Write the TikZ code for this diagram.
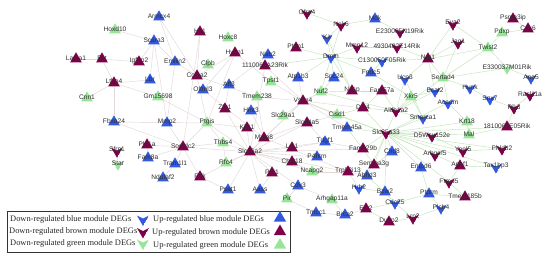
\documentclass[tikz,border=0pt]{standalone}
\usepackage{fontspec}
\setmainfont{Liberation Serif}
\setsansfont{Liberation Sans}
\usepackage{tikz}
\usetikzlibrary{shapes.geometric,backgrounds}
\definecolor{modblue}{HTML}{3259E0}
\definecolor{modbrown}{HTML}{7D0049}
\definecolor{modgreen}{HTML}{97E697}
\definecolor{edgegray}{HTML}{E3D7D7}
\definecolor{edgegreen}{HTML}{C2E5BA}
\definecolor{labelgray}{HTML}{2E2E2E}

\begin{document}
\begin{tikzpicture}[
  x=1pt,y=-1pt,
  gene/.style={regular polygon,regular polygon sides=3,minimum size=13.5pt,inner sep=0pt,draw=none},
  chev/.style={gene,shape border rotate=180,path picture={\fill[#1] (path picture bounding box.north west) -- ([yshift=-3pt]path picture bounding box.north) -- (path picture bounding box.north east) -- (path picture bounding box.south) -- cycle;}},
  upb/.style={gene,fill=modblue},
  upr/.style={gene,fill=modbrown},
  upg/.style={gene,fill=modgreen},
  dnb/.style={chev=modblue},
  dnr/.style={chev=modbrown},
  dng/.style={chev=modgreen},
  gl/.style={font=\sffamily\fontsize{6.6}{7}\selectfont,text=labelgray,inner sep=0pt,yshift=1pt},
  ep/.style={draw=edgegray,line width=0.45pt},
  eg/.style={draw=edgegreen,line width=0.45pt},
  legtext/.style={font=\fontsize{8.4}{9}\selectfont,text=black!85,inner sep=0pt,anchor=west},
]
\useasboundingbox (0,0) rectangle (550,260);
% blue module, up
\node[upb,label={[gl]center:Armcx4}] (armcx4) at (159,17) {};
\node[upb,label={[gl]center:Scara3}] (scara3) at (154,41) {};
\node[upb,label={[gl]center:Emilin2}] (emilin2) at (175,62) {};
\node[upb,label={[gl]center:Nab2}] (nab2) at (268,55) {};
\node[upb,label={[gl]center:Lbr}] (lbr) at (150,80) {};
\node[upb,label={[gl]center:Atf3}] (atf3) at (229,85) {};
\node[upb,label={[gl]center:Olfml3}] (olfml3) at (203,90) {};
\node[upb,label={[gl]center:Fbxo24}] (fbxo24) at (114,122) {};
\node[upb,label={[gl]center:Mmp2}] (mmp2) at (167,123) {};
\node[upb,label={[gl]center:Hint3}] (hint3) at (251,111) {};
\node[upb,label={[gl]center:Fam8a}] (fam8a) at (148,158) {};
\node[upb,label={[gl]center:Tram1l1}] (tram) at (175,164) {};
\node[upb,label={[gl]center:Ndufaf2}] (ndufaf2) at (163,178) {};
\node[upb,label={[gl]center:Psat1}] (psat1) at (228,190) {};
\node[upb,label={[gl]center:Aass}] (aass) at (260,190) {};
\node[upb,label={[gl]center:Atp1b3}] (atp1b3) at (298,78) {};
\node[upb,label={[gl]center:Spc24}] (spc24) at (334,78) {};
\node[upb,label={[gl]center:Fndc5}] (fndc5) at (371,73) {};
\node[upb,label={[gl]center:Mdk}] (mdk) at (375,19) {};
\node[upb,label={[gl]center:Tmem45a}] (tmem45a) at (347,128) {};
\node[upb,label={[gl]center:Tdgf1}] (tdgf1) at (325,142) {};
\node[upb,label={[gl]center:P4htm}] (p4htm) at (317,157) {};
\node[upb,label={[gl]center:Chd8}] (chd8) at (392,152) {};
\node[upb,label={[gl]center:Abhd3}] (abhd3) at (367,176) {};
\node[upb,label={[gl]center:Cdv3}] (cdv3) at (298,186) {};
\node[upb,label={[gl]center:Tmcc1}] (tmcc1) at (316,213) {};
\node[upb,label={[gl]center:Brca2}] (brca2) at (345,215) {};
\node[upb,label={[gl]center:Bzw2}] (bzw2) at (385,192) {};
\node[upb,label={[gl]center:Entpd6}] (entpd6) at (421,168) {};
\node[upb,label={[gl]center:Ptprm}] (ptprm) at (429,194) {};
% blue module, down
\node[dnb,label={[gl]center:Kit}] (kit) at (327,38) {};
\node[dnb,label={[gl]center:Dmtn}] (dmtn) at (331,57) {};
\node[dnb,label={[gl]center:C130050F05Rik}] (rik1300) at (382,61) {};
\node[dnb,label={[gl]center:Ucp3}] (ucp3) at (405,79) {};
\node[dnb,label={[gl]center:Bcat2}] (bcat2) at (435,91) {};
\node[dnb,label={[gl]center:Hunk}] (hunk) at (470,88) {};
\node[dnb,label={[gl]center:Acadm}] (acadm) at (448,103) {};
\node[dnb,label={[gl]center:Snx7}] (snx7) at (490,99) {};
\node[dnb,label={[gl]center:Ano5}] (ano5) at (531,78) {};
\node[dnb,label={[gl]center:Smarca1}] (smarca1) at (423,118) {};
\node[dnb,label={[gl]center:Tax1bp3}] (tax1bp3) at (496,167) {};
\node[dnb,label={[gl]center:Hrh2}] (hrh2) at (359,188) {};
\node[dnb,label={[gl]center:Cdc25}] (cdc25) at (395,203) {};
\node[dnb,label={[gl]center:Plcb4}] (plcb4) at (441,208) {};
% brown module, up
\node[upr,label={[gl]center:Lama1}] (lama1) at (76,59) {};
\node[upr,label={[gl]center:Fst}] (fst) at (102,59) {};
\node[upr,label={[gl]center:Igfbp2}] (igfbp2) at (139,62) {};
\node[upr,label={[gl]center:Ltbp4}] (ltbp4) at (114,83) {};
\node[upr,label={[gl]center:Hk1}] (hk1) at (200,32) {};
\node[upr,label={[gl]center:Hvcn1}] (hvcn1) at (235,53) {};
\node[upr,label={[gl]center:1110069A23Rik}] (rik1110) at (265,66) {};
\node[upr,label={[gl]center:Col4a2}] (col4a2) at (197,76) {};
\node[upr,label={[gl]center:Zfp1}] (zfp1) at (225,109) {};
\node[upr,label={[gl]center:Kif11}] (kif11) at (247,128) {};
\node[upr,label={[gl]center:Mxra8}] (mxra8) at (264,138) {};
\node[upr,label={[gl]center:Pla1a}] (pla1a) at (147,145) {};
\node[upr,label={[gl]center:Sostdc2}] (sostdc2) at (183,147) {};
\node[upr,label={[gl]center:Slc16a2}] (slc16a2) at (250,152) {};
\node[upr,label={[gl]center:Pbk}] (pbk) at (200,177) {};
\node[upr,label={[gl]center:Prc1}] (prc1) at (272,173) {};
\node[upr,label={[gl]center:Lgi1}] (lgi1) at (292,148) {};
\node[upr,label={[gl]center:Chst18}] (chst18) at (292,162) {};
\node[upr,label={[gl]center:Vstm4}] (vstm4) at (303,101) {};
\node[upr,label={[gl]center:Slc44a5}] (slc44a5) at (307,123) {};
\node[upr,label={[gl]center:Ptpn1}] (ptpn1) at (296,48) {};
\node[upr,label={[gl]center:Nasp}] (nasp) at (352,91) {};
\node[upr,label={[gl]center:Fam57a}] (fam57a) at (382,91) {};
\node[upr,label={[gl]center:Dtx4}] (dtx4) at (363,108) {};
\node[upr,label={[gl]center:Fam129b}] (fam129b) at (363,149) {};
\node[upr,label={[gl]center:Serpina3g}] (serpina3g) at (374,165) {};
\node[upr,label={[gl]center:Trp53i13}] (trp53i13) at (348,172) {};
\node[upr,label={[gl]center:Ect2}] (ect2) at (366,209) {};
\node[upr,label={[gl]center:Dusp2}] (dusp2) at (389,222) {};
\node[upr,label={[gl]center:Tmem185b}] (tmem185b) at (465,197) {};
\node[upr,label={[gl]center:Apaf1}] (apaf1) at (460,166) {};
\node[upr,label={[gl]center:1810065E05Rik}] (rik1810) at (507,127) {};
\node[upr,label={[gl]center:Nrp1}] (nrp1) at (428,59) {};
\node[upr,label={[gl]center:Psme3ip}] (psme3ip) at (513,19) {};
\node[upr,label={[gl]center:Cdk6}] (cdk6) at (528,29) {};
% brown module, down
\node[dnr,label={[gl]center:Sfrp1}] (sfrp1) at (117,151) {};
\node[dnr,label={[gl]center:Gfra4}] (gfra4) at (307,13) {};
\node[dnr,label={[gl]center:Nek6}] (nek6) at (341,25) {};
\node[dnr,label={[gl]center:Mmp12}] (mmp12) at (357,47) {};
\node[dnr,label={[gl]center:E230005N19Rik}] (rik2300) at (400,32) {};
\node[dnr,label={[gl]center:4930402E14Rik}] (rik4930) at (397,47) {};
\node[dnr,label={[gl]center:Aldh1a2}] (aldh1a2) at (396,111) {};
\node[dnr,label={[gl]center:Slc25a33}] (slc25a33) at (386,133) {};
\node[dnr,label={[gl]center:Eya2}] (eya2) at (453,24) {};
\node[dnr,label={[gl]center:Jag1}] (jag1) at (458,43) {};
\node[dnr,label={[gl]center:Rasl11a}] (rasl11a) at (530,95) {};
\node[dnr,label={[gl]center:Pik3}] (pik3) at (514,108) {};
\node[dnr,label={[gl]center:D5Wsu152e}] (d5wsu) at (432,136) {};
\node[dnr,label={[gl]center:Arhgef5}] (arhgef5) at (435,155) {};
\node[dnr,label={[gl]center:Ypel5}] (ypel5) at (463,151) {};
\node[dnr,label={[gl]center:Phldb2}] (phldb2) at (502,149) {};
\node[dnr,label={[gl]center:Frmd5}] (frmd5) at (449,182) {};
\node[dnr,label={[gl]center:Lrp2}] (lrp2) at (413,218) {};
% green module, up
\node[upg,label={[gl]center:Hoxd10}] (hoxd10) at (115,30) {};
\node[upg,label={[gl]center:Hoxc8}] (hoxc8) at (228,38) {};
\node[upg,label={[gl]center:Clpb}] (clpb) at (208,65) {};
\node[upg,label={[gl]center:Gm15698}] (gm15698) at (158,97) {};
\node[upg,label={[gl]center:Tpst1}] (tpst1) at (271,82) {};
\node[upg,label={[gl]center:Tmem238}] (tmem238) at (257,97) {};
\node[upg,label={[gl]center:Cnn1}] (cnn1) at (87,98) {};
\node[upg,label={[gl]center:Ptgis}] (ptgis) at (207,123) {};
\node[upg,label={[gl]center:Slc29a1}] (slc29a1) at (283,116) {};
\node[upg,label={[gl]center:Thbs4}] (thbs4) at (223,143) {};
\node[upg,label={[gl]center:Rfc4}] (rfc4) at (226,163) {};
\node[upg,label={[gl]center:Nuf2}] (nuf2) at (321,92) {};
\node[upg,label={[gl]center:Cisd1}] (cisd1) at (337,115) {};
\node[upg,label={[gl]center:Xkr5}] (xkr5) at (411,97) {};
\node[upg,label={[gl]center:Krt18}] (krt18) at (467,122) {};
\node[upg,label={[gl]center:Mal}] (mal) at (469,135) {};
\node[upg,label={[gl]center:Ncapg2}] (ncapg2) at (312,172) {};
\node[upg,label={[gl]center:Pir}] (pir) at (287,199) {};
\node[upg,label={[gl]center:Arhgap11a}] (arhgap11a) at (332,200) {};
\node[upg,label={[gl]center:Twist2}] (twist2) at (488,48) {};
\node[upg,label={[gl]center:Pdxp}] (pdxp) at (502,33) {};
\node[upg,label={[gl]center:Sertad4}] (sertad4) at (443,78) {};
% green module, down
\node[dng,label={[gl]center:Star}] (star) at (118,164) {};
\node[dng,label={[gl]center:E330037M01Rik}] (rik3300) at (507,68) {};
\begin{scope}[on background layer]
% brown module links
\draw[ep] (hoxd10) -- (scara3);
\draw[ep] (lama1) -- (fst);
\draw[ep] (fst) -- (igfbp2);
\draw[ep] (fst) -- (ltbp4);
\draw[ep] (ltbp4) -- (cnn1);
\draw[ep] (ltbp4) -- (lbr);
\draw[ep] (ltbp4) -- (gm15698);
\draw[ep] (ltbp4) -- (fbxo24);
\draw[ep] (scara3) -- (igfbp2);
\draw[ep] (scara3) -- (emilin2);
\draw[ep] (scara3) -- (lbr);
\draw[ep] (scara3) -- (mmp2);
\draw[ep] (armcx4) -- (emilin2);
\draw[ep] (armcx4) -- (col4a2);
\draw[ep] (hk1) -- (col4a2);
\draw[ep] (hk1) -- (sostdc2);
\draw[ep] (emilin2) -- (mmp2);
\draw[ep] (emilin2) -- (col4a2);
\draw[ep] (hvcn1) -- (col4a2);
\draw[ep] (hvcn1) -- (olfml3);
\draw[ep] (hvcn1) -- (tpst1);
\draw[ep] (hvcn1) -- (ptgis);
\draw[ep] (rik1110) -- (slc16a2);
\draw[ep] (rik1110) -- (vstm4);
\draw[ep] (nab2) -- (atf3);
\draw[ep] (col4a2) -- (ptgis);
\draw[ep] (col4a2) -- (tmem238);
\draw[ep] (atf3) -- (zfp1);
\draw[ep] (olfml3) -- (mxra8);
\draw[ep] (gm15698) -- (ptgis);
\draw[ep] (fbxo24) -- (ptgis);
\draw[ep] (fbxo24) -- (sostdc2);
\draw[ep] (mmp2) -- (sostdc2);
\draw[ep] (ptgis) -- (slc16a2);
\draw[ep] (ptgis) -- (thbs4);
\draw[ep] (ptgis) -- (sostdc2);
\draw[ep] (ptgis) -- (kif11);
\draw[ep] (zfp1) -- (slc16a2);
\draw[ep] (hint3) -- (mxra8);
\draw[ep] (kif11) -- (slc16a2);
\draw[ep] (mxra8) -- (slc16a2);
\draw[ep] (sostdc2) -- (slc16a2);
\draw[ep] (sostdc2) -- (pla1a);
\draw[ep] (sostdc2) -- (fam8a);
\draw[ep] (sostdc2) -- (tram);
\draw[ep] (sostdc2) -- (thbs4);
\draw[ep] (sostdc2) -- (pbk);
\draw[ep] (thbs4) -- (slc16a2);
\draw[ep] (rfc4) -- (slc16a2);
\draw[ep] (pbk) -- (slc16a2);
\draw[ep] (psat1) -- (slc16a2);
\draw[ep] (aass) -- (slc16a2);
\draw[ep] (prc1) -- (slc16a2);
\draw[ep] (slc16a2) -- (lgi1);
\draw[ep] (slc16a2) -- (chst18);
\draw[ep] (slc16a2) -- (vstm4);
\draw[ep] (slc16a2) -- (slc44a5);
\draw[ep] (slc16a2) -- (tdgf1);
\draw[ep] (slc16a2) -- (p4htm);
\draw[ep] (slc16a2) -- (ncapg2);
\draw[ep] (slc16a2) -- (cdv3);
\draw[ep] (slc16a2) -- (trp53i13);
\draw[ep] (slc16a2) -- (fam129b);
\draw[ep] (mxra8) -- (vstm4);
\draw[ep] (mxra8) -- (slc44a5);
\draw[ep] (mxra8) -- (tmem238);
\draw[ep] (mxra8) -- (trp53i13);
\draw[ep] (tpst1) -- (vstm4);
\draw[ep] (tmem238) -- (vstm4);
\draw[ep] (atp1b3) -- (vstm4);
\draw[ep] (vstm4) -- (slc29a1);
\draw[ep] (vstm4) -- (nuf2);
\draw[ep] (vstm4) -- (cisd1);
\draw[ep] (vstm4) -- (dtx4);
\draw[ep] (vstm4) -- (tmem45a);
\draw[ep] (slc44a5) -- (cisd1);
\draw[ep] (slc44a5) -- (tdgf1);
\draw[ep] (tdgf1) -- (fam129b);
\draw[ep] (lgi1) -- (tdgf1);
\draw[ep] (chst18) -- (ncapg2);
\draw[ep] (ncapg2) -- (trp53i13);
\draw[ep] (cdv3) -- (pir);
\draw[ep] (cdv3) -- (arhgap11a);
\draw[ep] (pir) -- (tmcc1);
\draw[ep] (arhgap11a) -- (brca2);
\draw[ep] (trp53i13) -- (abhd3);
\draw[ep] (trp53i13) -- (hrh2);
\draw[ep] (tmcc1) -- (brca2);
\draw[ep] (brca2) -- (ect2);
\draw[ep] (prc1) -- (aass);
\draw[ep] (psat1) -- (pbk);
\draw[ep] (rfc4) -- (thbs4);
\draw[ep] (sfrp1) -- (star);
\draw[ep] (pla1a) -- (fam8a);
\draw[ep] (ndufaf2) -- (tram);
\draw[ep] (psme3ip) -- (cdk6);
% green module links
\draw[eg] (ect2) -- (cdc25);
\draw[eg] (ect2) -- (dusp2);
\draw[eg] (hrh2) -- (bzw2);
\draw[eg] (cdc25) -- (lrp2);
\draw[eg] (dusp2) -- (lrp2);
\draw[eg] (lrp2) -- (plcb4);
\draw[eg] (plcb4) -- (ptprm);
\draw[eg] (ptprm) -- (tmem185b);
\draw[eg] (slc25a33) -- (smarca1);
\draw[eg] (slc25a33) -- (acadm);
\draw[eg] (slc25a33) -- (aldh1a2);
\draw[eg] (slc25a33) -- (dtx4);
\draw[eg] (slc25a33) -- (d5wsu);
\draw[eg] (slc25a33) -- (krt18);
\draw[eg] (slc25a33) -- (arhgef5);
\draw[eg] (slc25a33) -- (ypel5);
\draw[eg] (slc25a33) -- (entpd6);
\draw[eg] (slc25a33) -- (apaf1);
\draw[eg] (slc25a33) -- (frmd5);
\draw[eg] (slc25a33) -- (chd8);
\draw[eg] (slc25a33) -- (fam129b);
\draw[eg] (slc25a33) -- (serpina3g);
\draw[eg] (slc25a33) -- (abhd3);
\draw[eg] (slc25a33) -- (tmem45a);
\draw[eg] (slc25a33) -- (cisd1);
\draw[eg] (slc25a33) -- (phldb2);
\draw[eg] (slc25a33) -- (tax1bp3);
\draw[eg] (slc25a33) -- (rik1810);
\draw[eg] (slc25a33) -- (mal);
\draw[eg] (slc25a33) -- (bzw2);
\draw[eg] (slc25a33) -- (vstm4);
\draw[eg] (aldh1a2) -- (xkr5);
\draw[eg] (aldh1a2) -- (smarca1);
\draw[eg] (aldh1a2) -- (dtx4);
\draw[eg] (aldh1a2) -- (fam57a);
\draw[eg] (aldh1a2) -- (ucp3);
\draw[eg] (aldh1a2) -- (sertad4);
\draw[eg] (aldh1a2) -- (bcat2);
\draw[eg] (aldh1a2) -- (nuf2);
\draw[eg] (dmtn) -- (nek6);
\draw[eg] (dmtn) -- (kit);
\draw[eg] (dmtn) -- (ptpn1);
\draw[eg] (dmtn) -- (mmp12);
\draw[eg] (dmtn) -- (fndc5);
\draw[eg] (dmtn) -- (spc24);
\draw[eg] (dmtn) -- (atp1b3);
\draw[eg] (dmtn) -- (nuf2);
\draw[eg] (dmtn) -- (nasp);
\draw[eg] (dmtn) -- (rik1300);
\draw[eg] (dmtn) -- (rik1110);
\draw[eg] (gfra4) -- (nek6);
\draw[eg] (nek6) -- (mdk);
\draw[eg] (nek6) -- (kit);
\draw[eg] (kit) -- (nasp);
\draw[eg] (mdk) -- (rik2300);
\draw[eg] (mmp12) -- (rik4930);
\draw[eg] (rik4930) -- (nrp1);
\draw[eg] (rik1300) -- (nrp1);
\draw[eg] (rik1300) -- (fndc5);
\draw[eg] (nrp1) -- (eya2);
\draw[eg] (nrp1) -- (jag1);
\draw[eg] (nrp1) -- (twist2);
\draw[eg] (nrp1) -- (sertad4);
\draw[eg] (nrp1) -- (bcat2);
\draw[eg] (nrp1) -- (ucp3);
\draw[eg] (eya2) -- (twist2);
\draw[eg] (jag1) -- (sertad4);
\draw[eg] (twist2) -- (pdxp);
\draw[eg] (twist2) -- (rik3300);
\draw[eg] (twist2) -- (sertad4);
\draw[eg] (pdxp) -- (cdk6);
\draw[eg] (rik3300) -- (sertad4);
\draw[eg] (rik3300) -- (ano5);
\draw[eg] (sertad4) -- (hunk);
\draw[eg] (sertad4) -- (acadm);
\draw[eg] (hunk) -- (snx7);
\draw[eg] (acadm) -- (krt18);
\draw[eg] (snx7) -- (pik3);
\draw[eg] (rasl11a) -- (pik3);
\draw[eg] (krt18) -- (mal);
\draw[eg] (mal) -- (rik1810);
\draw[eg] (rik1810) -- (pik3);
\draw[eg] (d5wsu) -- (ypel5);
\draw[eg] (ypel5) -- (phldb2);
\draw[eg] (apaf1) -- (tax1bp3);
\draw[eg] (apaf1) -- (frmd5);
\draw[eg] (entpd6) -- (ptprm);
\draw[eg] (frmd5) -- (tmem185b);
\draw[eg] (bzw2) -- (cdc25);
\draw[eg] (cdc25) -- (ptprm);
\draw[eg] (abhd3) -- (bzw2);
\draw[eg] (serpina3g) -- (chd8);
\draw[eg] (fam129b) -- (serpina3g);
\draw[eg] (tmem45a) -- (fam129b);
\draw[eg] (cisd1) -- (dtx4);
\draw[eg] (dtx4) -- (fam57a);
\draw[eg] (nasp) -- (fam57a);
\draw[eg] (spc24) -- (nuf2);
\draw[eg] (nuf2) -- (nasp);
\draw[eg] (fndc5) -- (xkr5);
\draw[eg] (ucp3) -- (smarca1);
\draw[eg] (xkr5) -- (bcat2);
\draw[eg] (xkr5) -- (smarca1);
\end{scope}
% legend
\node[draw=black!80,line width=1.2pt,fill=white,minimum width=283pt,minimum height=41pt,anchor=north west,inner sep=0pt] (legend) at (7,211) {};
\node[legtext] (ldb) at (10,219) {Down-regulated blue module DEGs};
\node[legtext] (ldr) at (9,231.5) {Down-regulated brown module DEGs};
\node[legtext] (ldg) at (10,243.5) {Down-regulated green module DEGs};
\node[legtext] (lub) at (153,219) {Up-regulated blue module DEGs};
\node[legtext] (lur) at (152,232) {Up-regulated brown module DEGs};
\node[legtext] (lug) at (153,245) {Up-regulated green module DEGs};
\node[dnb,minimum size=14pt] (kdb) at (143,219) {};
\node[dnr,minimum size=14pt] (kdr) at (143,231.5) {};
\node[dng,minimum size=14pt] (kdg) at (143,243) {};
\node[upb,minimum size=14pt] (kub) at (280,218) {};
\node[upr,minimum size=14pt] (kur) at (280,231.5) {};
\node[upg,minimum size=14pt] (kug) at (280,245) {};
\end{tikzpicture}
\end{document}
